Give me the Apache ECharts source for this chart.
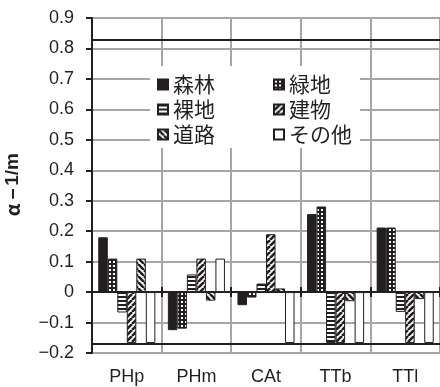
<!DOCTYPE html>
<html>
<head>
<meta charset="utf-8">
<script src="https://cdn.jsdelivr.net/npm/echarts@6/dist/echarts.min.js"></script>
<style>
  html, body { margin: 0; padding: 0; background: #fff; }
  #chart { width: 440px; height: 387px; }
</style>
</head>
<body>
<div id="chart"></div>
<script>
// Sites along the x axis
const categories = ['PHp', 'PHm', 'CAt', 'TTb', 'TTl'];

// α−1/m per land-cover class
const forest = [0.18, -0.125, -0.043, 0.256, 0.212];
const green = [0.11, -0.12, -0.018, 0.281, 0.212];
const bare = [-0.067, 0.058, 0.028, -0.167, -0.065];
const building = [-0.167, 0.11, 0.19, -0.167, -0.167];
const road = [0.11, -0.028, 0.012, -0.03, -0.023];
const other = [-0.167, 0.11, -0.167, -0.167, -0.167];

const seriesNames = ['森林', '緑地', '裸地', '建物', '道路', 'その他'];

// Upper and lower bounds drawn as heavy horizontal lines
const boundLines = [0.833, -0.167];

// y tick labels from -0.2 to 0.9
const yTickLabels = ['−0.2', '−0.1', '0', '0.1', '0.2', '0.3', '0.4', '0.5', '0.6', '0.7', '0.8', '0.9'];

const INK = '#231f20';
const GRID = '#a6a6a6';

function makePattern(size, draw) {
  const c = document.createElement('canvas');
  c.width = size; c.height = size;
  const g = c.getContext('2d');
  draw(g, size);
  return { image: c, repeat: 'repeat' };
}

const fills = {
  '森林': INK,
  '緑地': makePattern(4, (g, s) => {
    g.fillStyle = INK; g.fillRect(0, 0, s, s);
    g.fillStyle = '#fff'; g.fillRect(1, 1, 2, 2);
  }),
  '裸地': makePattern(4, (g, s) => {
    g.fillStyle = '#fff'; g.fillRect(0, 0, s, s);
    g.fillStyle = INK; g.fillRect(0, 0, s, 2);
  }),
  '建物': makePattern(6, (g, s) => {
    g.fillStyle = '#fff'; g.fillRect(0, 0, s, s);
    g.strokeStyle = INK; g.lineWidth = 2.6;
    for (const k of [-s, 0, s]) {
      g.beginPath(); g.moveTo(k, s); g.lineTo(k + s, 0); g.stroke();
    }
  }),
  '道路': makePattern(6, (g, s) => {
    g.fillStyle = '#fff'; g.fillRect(0, 0, s, s);
    g.strokeStyle = INK; g.lineWidth = 2.6;
    for (const k of [-s, 0, s]) {
      g.beginPath(); g.moveTo(k, 0); g.lineTo(k + s, s); g.stroke();
    }
  }),
  'その他': '#ffffff'
};

const values = [forest, green, bare, building, road, other];

const series = seriesNames.map((name, i) => {
  const s = {
    name: name,
    type: 'bar',
    data: values[i],
    barGap: '0%',
    barCategoryGap: '18%',
    itemStyle: { color: fills[name], borderColor: INK, borderWidth: 1 },
    emphasis: { disabled: true }
  };
  if (i === 0) {
    s.markLine = {
      silent: true,
      symbol: 'none',
      label: { show: false },
      lineStyle: { color: INK, width: 2, type: 'solid' },
      data: boundLines.map(v => ({ yAxis: v }))
    };
  }
  return s;
});

const legendFont = { fontFamily: 'Noto Sans CJK JP', fontSize: 21, color: INK };
const legendRows = [['森林', '緑地'], ['裸地', '建物'], ['道路', 'その他']];
const legends = legendRows.map((row, r) => ({
  data: row,
  orient: 'horizontal',
  left: 157,
  top: 74 + r * 25,
  padding: 0,
  itemGap: 58,
  itemWidth: 10,
  itemHeight: 10,
  icon: 'rect',
  selectedMode: false,
  textStyle: legendFont
}));

const chart = echarts.init(document.getElementById('chart'), null, { renderer: 'canvas' });
chart.setOption({
  animation: false,
  backgroundColor: '#fff',
  grid: { left: 92, right: 0, top: 18, bottom: 34, containLabel: false, outerBoundsMode: 'none' },
  graphic: [{
    type: 'rect', z: 1,
    shape: { x: 150, y: 66, width: 210, height: 82 },
    style: { fill: '#fff' }
  }],
  legend: legends,
  xAxis: [
    {
      type: 'category', data: categories, position: 'bottom',
      axisLine: { show: false, onZero: false },
      axisTick: { show: false },
      axisLabel: { fontFamily: 'Liberation Sans', fontSize: 18, color: INK, margin: 15 },
      splitLine: { show: true, interval: 0, lineStyle: { color: GRID, width: 2 } }
    },
    {
      type: 'category', data: categories, position: 'bottom',
      axisLine: { show: true, onZero: true, onZeroAxisIndex: 0, lineStyle: { color: INK, width: 2 } },
      axisTick: { show: true, interval: 0, length: 5, lineStyle: { color: INK, width: 2 } },
      axisLabel: { show: false },
      splitLine: { show: false }
    },
    {
      type: 'category', data: categories, position: 'top',
      axisLine: { show: false, onZero: true, onZeroAxisIndex: 1 },
      axisTick: { show: true, interval: 0, length: 5, lineStyle: { color: INK, width: 2 } },
      axisLabel: { show: false },
      splitLine: { show: false }
    }
  ],
  yAxis: [
    {
      type: 'value', min: -0.2, max: 0.9, interval: 0.1,
      name: '{g|α}{g|−}{t|1/m}',
      nameLocation: 'middle',
      nameRotate: 90,
      nameGap: 70,
      nameTextStyle: {
        color: INK,
        fontFamily: 'Liberation Sans',
        fontSize: 19,
        fontWeight: 'bold',
        rich: {
          g: { fontFamily: 'Noto Sans CJK JP', fontSize: 19, fontWeight: 'bold', color: INK, width: 16, align: 'center' },
          t: { fontFamily: 'Liberation Sans', fontSize: 19, fontWeight: 'bold', color: INK }
        }
      },
      axisLine: { show: true, lineStyle: { color: INK, width: 2 } },
      axisTick: { show: true, length: 6, lineStyle: { color: INK, width: 2 } },
      axisLabel: {
        fontFamily: 'Liberation Sans', fontSize: 18, color: INK, margin: 18,
        formatter: v => yTickLabels[Math.round((v + 0.2) * 10)]
      },
      splitLine: { show: true, lineStyle: { color: GRID, width: 2 } }
    },
    {
      type: 'value', min: -0.2, max: 0.9, interval: 0.1, show: false,
      splitLine: { show: false }
    }
  ],
  series: series
});
</script>
</body>
</html>
